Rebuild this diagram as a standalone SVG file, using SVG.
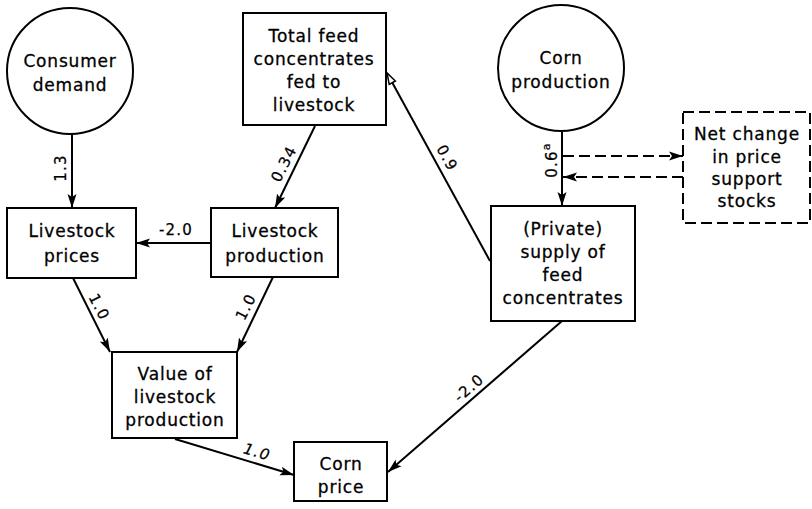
<svg xmlns="http://www.w3.org/2000/svg" width="812" height="509" viewBox="0 0 812 509">
<defs>
<style>
.n{fill:#fff;stroke:#000;stroke-width:2}
.d{fill:#fff;stroke:#000;stroke-width:2;stroke-dasharray:11 5}
.t{font-family:"DejaVu Sans",sans-serif;font-size:17px;letter-spacing:0.8px;text-anchor:middle;fill:#000;stroke:#000;stroke-width:0.3}
.l{font-family:"DejaVu Sans",sans-serif;font-size:15px;letter-spacing:1.2px;text-anchor:middle;dominant-baseline:central;fill:#000;stroke:#000;stroke-width:0.25}
.c{fill:none;stroke:#000;stroke-width:2}
.cd{fill:none;stroke:#000;stroke-width:2;stroke-dasharray:11 5}
</style>
<marker id="ah" markerUnits="userSpaceOnUse" markerWidth="16" markerHeight="12" refX="14" refY="6" orient="auto">
<path d="M0,1.5 L14,6 L0,10.5 L3,6 Z" fill="#000"/>
</marker>
<marker id="ao" markerUnits="userSpaceOnUse" markerWidth="16" markerHeight="12" refX="13" refY="6" orient="auto">
<path d="M2,2.5 L13,6 L2,9.5 Z" fill="#fff" stroke="#000" stroke-width="1.5"/>
</marker>
</defs>
<rect width="812" height="509" fill="#fff"/>

<g id="connectors">
<line class="c" x1="72" y1="134" x2="72" y2="208" marker-end="url(#ah)"/>
<text class="l" transform="translate(61,168) rotate(-90)">1.3</text>

<line class="c" x1="211" y1="243" x2="136" y2="243" marker-end="url(#ah)"/>
<text class="l" x="176" y="230">-2.0</text>

<line class="c" x1="315" y1="126" x2="275" y2="208" marker-end="url(#ah)"/>
<text class="l" transform="translate(284,164) rotate(-63)">0.34</text>

<line class="c" x1="73" y1="278" x2="110" y2="352" marker-end="url(#ah)"/>
<text class="l" transform="translate(99,307) rotate(63)">1.0</text>

<line class="c" x1="273" y1="277" x2="237" y2="352" marker-end="url(#ah)"/>
<text class="l" transform="translate(246,307) rotate(-63)">1.0</text>

<line class="c" x1="175" y1="439" x2="294" y2="475" marker-end="url(#ah)"/>
<text class="l" font-style="italic" transform="translate(257,452) rotate(16)">1.0</text>

<line class="c" x1="562" y1="321" x2="388" y2="472" marker-end="url(#ah)"/>
<text class="l" transform="translate(469,388) rotate(-41)">-2.0</text>

<line class="c" x1="490" y1="261" x2="387" y2="73" marker-end="url(#ao)"/>
<text class="l" transform="translate(447,158) rotate(61)">0.9</text>

<line class="c" x1="562" y1="132" x2="562" y2="206" marker-end="url(#ah)"/>
<text class="l" transform="translate(552,160) rotate(-90)">0.6<tspan font-size="11" dy="-6">a</tspan></text>

<line class="cd" x1="563" y1="156" x2="683" y2="156" marker-end="url(#ah)"/>
<line class="cd" x1="683" y1="177" x2="563" y2="177" marker-end="url(#ah)"/>
</g>

<g id="consumer-demand">
<circle class="n" cx="70" cy="71" r="63"/>
<text class="t" x="70" y="67">Consumer</text>
<text class="t" x="70" y="91">demand</text>
</g>

<g id="total-feed">
<rect class="n" x="243" y="13" width="143" height="112"/>
<text class="t" x="314" y="42">Total feed</text>
<text class="t" x="314" y="65">concentrates</text>
<text class="t" x="314" y="88">fed to</text>
<text class="t" x="314" y="111">livestock</text>
</g>

<g id="corn-production">
<circle class="n" cx="561" cy="68" r="63"/>
<text class="t" x="561" y="64">Corn</text>
<text class="t" x="561" y="88">production</text>
</g>

<g id="net-change">
<rect class="d" x="683" y="112" width="127" height="111"/>
<text class="t" x="747" y="140">Net change</text>
<text class="t" x="747" y="163">in price</text>
<text class="t" x="747" y="185">support</text>
<text class="t" x="747" y="207">stocks</text>
</g>

<g id="livestock-prices">
<rect class="n" x="7" y="208" width="129" height="70"/>
<text class="t" x="72" y="237">Livestock</text>
<text class="t" x="72" y="262">prices</text>
</g>

<g id="livestock-production">
<rect class="n" x="211" y="208" width="127" height="69"/>
<text class="t" x="275" y="237">Livestock</text>
<text class="t" x="275" y="262">production</text>
</g>

<g id="private-supply">
<rect class="n" x="491" y="206" width="144" height="115"/>
<text class="t" x="563" y="235">(Private)</text>
<text class="t" x="563" y="258">supply of</text>
<text class="t" x="563" y="281">feed</text>
<text class="t" x="563" y="304">concentrates</text>
</g>

<g id="value-livestock">
<rect class="n" x="112" y="352" width="125" height="86"/>
<text class="t" x="175" y="380">Value of</text>
<text class="t" x="175" y="403">livestock</text>
<text class="t" x="175" y="426">production</text>
</g>

<g id="corn-price">
<rect class="n" x="294" y="442" width="93" height="59"/>
<text class="t" x="341" y="470">Corn</text>
<text class="t" x="341" y="493">price</text>
</g>
</svg>
